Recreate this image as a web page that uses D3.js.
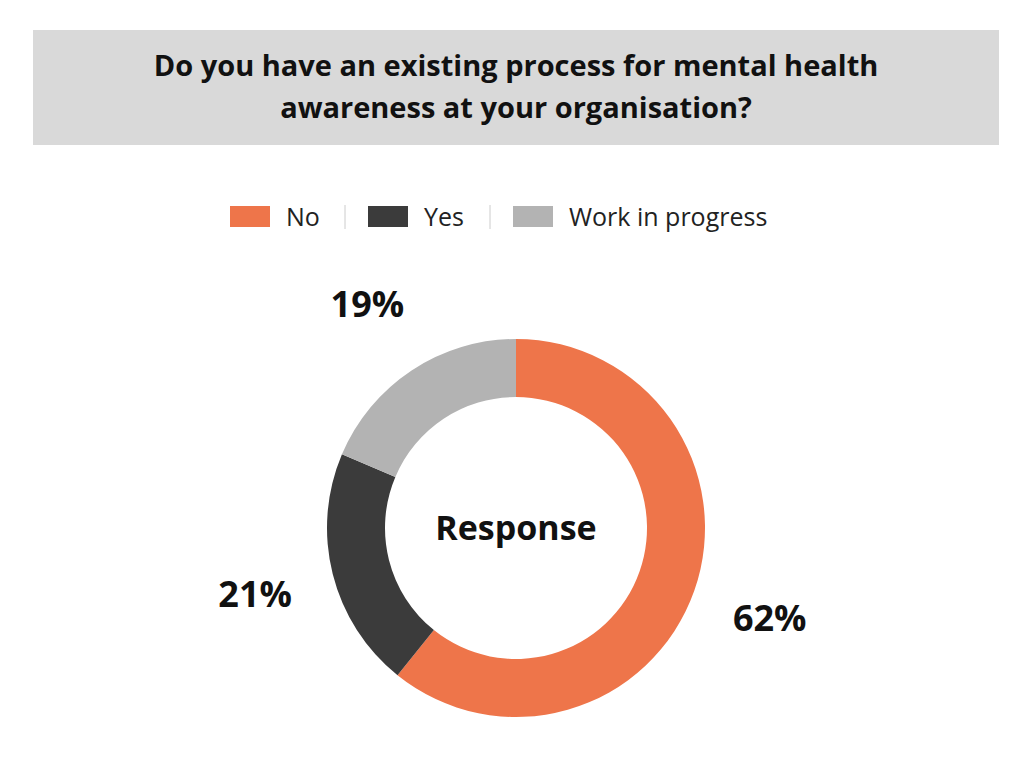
<!DOCTYPE html>
<html><head><meta charset="utf-8">
<script src="https://cdn.jsdelivr.net/npm/d3@7"></script>
<style>body{margin:0;background:#fff}</style></head>
<body><svg id="c" width="1032" height="774"></svg>
<script>
const categories = ["No","Yes","Work in progress"];
const values = [62,21,19];
const labels = ["62%","21%","19%"];
const colors = ["#ee754a","#3b3b3b","#b3b3b3"];
const titleLines = ["Do you have an existing process for mental health","awareness at your organisation?"];

const svg = d3.select("#c");
const font = "'Open Sans', Lato, sans-serif";
svg.append("rect").attr("x",33).attr("y",30).attr("width",966).attr("height",115).attr("fill","#d9d9d9");
svg.selectAll("text.t").data(titleLines).join("text")
  .attr("x",516).attr("y",(d,i)=>76+i*42).attr("text-anchor","middle")
  .attr("font-family",font).attr("font-weight",700).attr("font-size",29).attr("fill","#111").text(d=>d);

// legend
const lx=[230,368,513];
const lg = svg.append("g");
categories.forEach((c,i)=>{
  lg.append("rect").attr("x",lx[i]).attr("y",206).attr("width",40).attr("height",21).attr("fill",colors[i]);
  lg.append("text").attr("x",lx[i]+56).attr("y",226).attr("font-family",font).attr("font-size",25).attr("fill","#222").text(c);
});
[345,490].forEach(x=>lg.append("line").attr("x1",x).attr("x2",x).attr("y1",205).attr("y2",229).attr("stroke","#ccc"));

const cx=516, cy=528, R=189, r=131;
const pie = d3.pie().sort(null)(values);
const arc = d3.arc().innerRadius(r).outerRadius(R);
const g = svg.append("g").attr("transform",`translate(${cx},${cy})`);
g.selectAll("path").data(pie).join("path").attr("d",arc).attr("fill",(d,i)=>colors[i]);
const lab = d3.arc().innerRadius(R+80).outerRadius(R+80);
g.selectAll("text.l").data(pie).join("text")
  .attr("transform",(d,i)=>{const [x,y]=lab.centroid(d);return `translate(${x},${y})`;})
  .attr("text-anchor","middle").attr("dominant-baseline","central")
  .attr("font-family",font).attr("font-weight",700).attr("font-size",36).attr("fill","#111")
  .text((d,i)=>labels[i]);
g.append("text").attr("text-anchor","middle").attr("y",12).attr("font-family",font).attr("font-weight",700).attr("font-size",34).attr("fill","#111").text("Response");
</script></body></html>
